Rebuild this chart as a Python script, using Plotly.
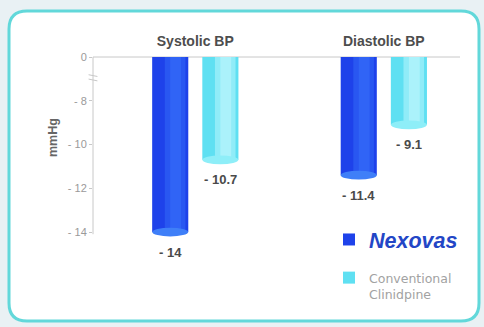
import plotly.graph_objects as go

# Blood-pressure reduction (mmHg) per measure and treatment
categories = ["Systolic BP", "Diastolic BP"]
nexovas = [-14.0, -11.4]
conventional = [-10.7, -9.1]
series_names = ["<b><i>Nexovas</i></b>", "Conventional<br>Clinidpine"]
tick_values = [-6, -8, -10, -12, -14]
tick_labels = ["0", "- 8", "- 10", "- 12", "- 14"]

# The value axis is broken: the "0" line sits where -6 would be
AXIS_TOP = -6

W, H = 484, 327

# bar geometry on the category axis
BARGAP = 0.468
BARGROUPGAP = 0.28
slot = (1 - BARGAP) / 2
bar_w = slot * (1 - BARGROUPGAP)
offsets = [-slot / 2, slot / 2]


def px_x(p):
    return p / W


def px_y(p):
    return 1 - p / H


def label(v):
    return f"- {abs(v):g}"


fig = go.Figure()

colors = ["#1e42ea", "#5fe0f2"]
shine_colors = ["rgba(64,125,255,0.35)", "rgba(205,250,255,0.45)"]
cap_colors = ["#3f7ff8", "#8eeef8"]
for i, (name, vals, col) in enumerate(zip(series_names, [nexovas, conventional], colors)):
    fig.add_trace(go.Bar(
        x=categories,
        y=[v - AXIS_TOP for v in vals],
        base=AXIS_TOP,
        name=name,
        marker=dict(color=col, line=dict(width=0)),
        legend="legend" if i == 0 else "legend2",
        showlegend=True,
        hoverinfo="skip",
    ))

shapes = []
annotations = []

# rounded frame around the chart
x0, y0, x1, y1, r = 9, 11, 479, 321, 18
path = (f"M {x0 + r},{y0} L {x1 - r},{y0} Q {x1},{y0} {x1},{y0 + r} "
        f"L {x1},{y1 - r} Q {x1},{y1} {x1 - r},{y1} L {x0 + r},{y1} "
        f"Q {x0},{y1} {x0},{y1 - r} L {x0},{y0 + r} Q {x0},{y0} {x0 + r},{y0} Z")


def to_paper_path(p):
    out = []
    for tok in p.split(" "):
        if "," in tok:
            a, b = tok.split(",")
            out.append(f"{px_x(float(a)):.5f},{px_y(float(b)):.5f}")
        else:
            out.append(tok)
    return " ".join(out)


shapes.append(dict(type="path", xref="paper", yref="paper", path=to_paper_path(path),
                   fillcolor="white", line=dict(color="#62d8da", width=3), layer="below"))

# baseline ("0") line
shapes.append(dict(type="line", xref="x domain", yref="y", x0=0, x1=1,
                   y0=AXIS_TOP, y1=AXIS_TOP, line=dict(color="#c8c8c8", width=1), layer="below"))
# vertical axis line
shapes.append(dict(type="line", xref="x domain", yref="y", x0=0, x1=0,
                   y0=AXIS_TOP, y1=min(tick_values) - 0.1, line=dict(color="#c8c8c8", width=1)))
# axis-break mark
for dy in (-0.85, -1.05):
    shapes.append(dict(type="line", xref="x domain", yref="y", x0=-0.012, x1=0.012,
                       y0=AXIS_TOP + dy + 0.04, y1=AXIS_TOP + dy - 0.04,
                       line=dict(color="#c8c8c8", width=1)))

# cylinder shading, rounded caps at the bar ends and value labels
for s, vals in enumerate([nexovas, conventional]):
    for i, v in enumerate(vals):
        cx = i + offsets[s]
        for a, b in ((-0.15, 0.42), (0.0, 0.3)):
            shapes.append(dict(type="rect", xref="x", yref="y",
                               x0=cx + bar_w * a, x1=cx + bar_w * b,
                               y0=v, y1=AXIS_TOP, fillcolor=shine_colors[s], line=dict(width=0)))
        shapes.append(dict(type="circle", xref="x", yref="y",
                           x0=cx - bar_w / 2, x1=cx + bar_w / 2,
                           y0=v - 0.2, y1=v + 0.2,
                           fillcolor=cap_colors[s], line=dict(width=0)))
        annotations.append(dict(x=cx, y=v, xref="x", yref="y", text=f"<b>{label(v)}</b>",
                                showarrow=False, yshift=-20,
                                font=dict(size=13, color="#4a4a4a", family="Liberation Sans")))

annotations.append(dict(x=px_x(44), y=px_y(138), xref="paper", yref="paper",
                        text="<b>mmHg</b>", textangle=-90, showarrow=False,
                        font=dict(size=12.5, color="#666666", family="Liberation Sans")))

fig.update_layout(
    width=W, height=H,
    margin=dict(l=0, r=0, t=0, b=0),
    paper_bgcolor="#e9f1f4",
    plot_bgcolor="rgba(0,0,0,0)",
    showlegend=True,
    barmode="group",
    bargap=BARGAP,
    bargroupgap=BARGROUPGAP,
    font=dict(family="Liberation Sans"),
    xaxis=dict(
        domain=[px_x(93), px_x(460)],
        range=[-0.5426, 1.404],
        side="top",
        showline=False, showgrid=False, zeroline=False,
        ticks="", ticklabelstandoff=2,
        tickfont=dict(size=14, color="#4d4d4d", family="Liberation Sans"),
        tickprefix="<b>", ticksuffix="</b>",
        fixedrange=True,
    ),
    yaxis=dict(
        domain=[px_y(262), px_y(52)],
        range=[-15.371, -5.7714],
        tickvals=tick_values,
        ticktext=tick_labels,
        ticks="outside", ticklen=3, tickcolor="#c8c8c8",
        tickfont=dict(size=11, color="#9a9a9a", family="Liberation Sans"),
        showgrid=False, zeroline=False, showline=False,
        fixedrange=True,
    ),
    legend=dict(
        x=px_x(329), y=px_y(219), xanchor="left", yanchor="top",
        bgcolor="rgba(0,0,0,0)",
        font=dict(size=21.5, color="#2346c6", family="Liberation Sans"),
        itemclick=False,
    ),
    legend2=dict(
        x=px_x(329), y=px_y(263), xanchor="left", yanchor="top",
        bgcolor="rgba(0,0,0,0)", valign="top",
        font=dict(size=12.5, color="#a2a2a2", family="DejaVu Sans"),
        itemclick=False,
    ),
    shapes=shapes,
    annotations=annotations,
)

fig.write_html("out.html")
